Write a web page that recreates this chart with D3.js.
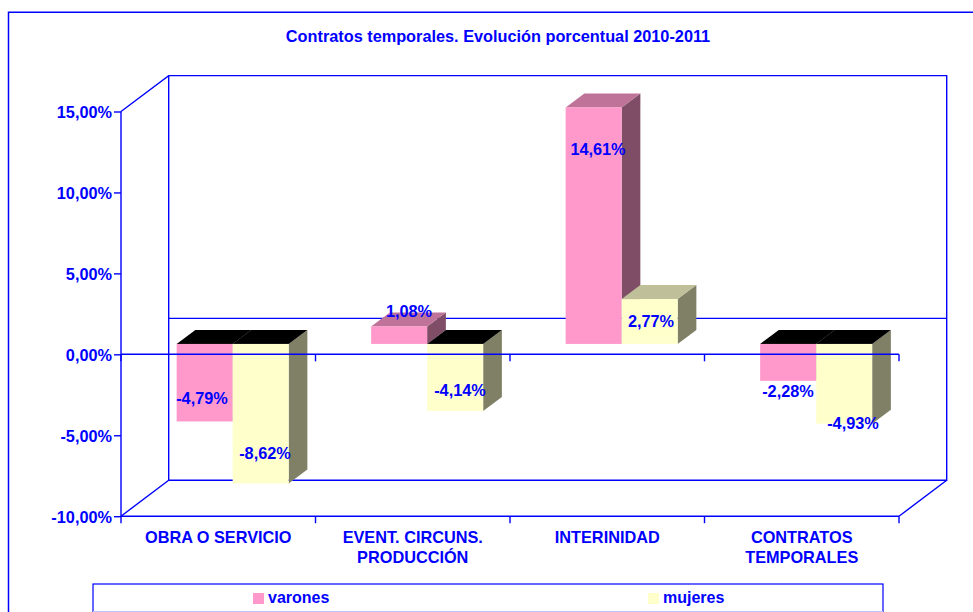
<!DOCTYPE html>
<html><head><meta charset="utf-8">
<script src="https://cdn.jsdelivr.net/npm/d3@7"></script>
<style>
html,body{margin:0;padding:0;background:#fff;overflow:hidden}
text{font-family:"Liberation Sans",Arial,sans-serif;font-weight:bold;fill:#0000ff}
</style></head><body><svg id="c" width="973" height="612"></svg>
<script>
const categories=[["OBRA O SERVICIO"],["EVENT. CIRCUNS.","PRODUCCIÓN"],["INTERINIDAD"],["CONTRATOS","TEMPORALES"]];
const varones=[-4.79,1.08,14.61,-2.28];
const mujeres=[-8.62,-4.14,2.77,-4.93];
const seriesNames=["varones","mujeres"];
const tickValues=[15,10,5,0,-5,-10];
const fmt=v=>v.toFixed(2).replace(".",",")+"%";
const BLUE="#0000ff", FS=16.3, SW=1.4;
const svg=d3.select("#c");
const y=d3.scaleLinear().domain([-10,15]).range([516.2,111.5]);
const x=d3.scaleBand().domain(d3.range(4)).range([121,899]);
const wall={dx:47.7,dy:-35.9}, bar={dx:14.4,dy:-10.4,depth:[18.7,-14]};
const line=(a,b,c,d,w=SW)=>svg.append("line").attr("x1",a).attr("y1",b).attr("x2",c).attr("y2",d).attr("stroke",BLUE).attr("stroke-width",w);

// chart frame
svg.append("path").attr("d","M8.5,612V12.2H973").attr("fill","none").attr("stroke",BLUE).attr("stroke-width",1.5);
svg.append("text").attr("x",498).attr("y",42).attr("text-anchor","middle").attr("font-size",FS).text("Contratos temporales. Evolución porcentual 2010-2011");

// back wall and floor
const x0=x.range()[0],x1=x.range()[1],yT=y(15),yB=y(-10);
svg.append("path").attr("fill","none").attr("stroke",BLUE).attr("stroke-width",SW)
 .attr("d",`M${x0},${yT}L${x0+wall.dx},${yT+wall.dy}H${x1+wall.dx}V${yB+wall.dy}H${x0+wall.dx}V${yT+wall.dy}M${x0},${yB}L${x0+wall.dx},${yB+wall.dy}M${x1},${yB}L${x1+wall.dx},${yB+wall.dy}`);
line(x0+wall.dx,y(0)+wall.dy,x1+wall.dx,y(0)+wall.dy,1.1);

// bars
const colors=[{f:"#FF99CC",t:"#BF7399",s:"#804D66"},{f:"#FFFFCC",t:"#BFBF99",s:"#808066"}];
const bw=x.bandwidth()*0.288;
const rows=[];
categories.forEach((c,i)=>[varones,mujeres].forEach((arr,k)=>rows.push({i,k,v:arr[i]})));
const base=y(0)+bar.dy, [ddx,ddy]=bar.depth;
rows.forEach(d=>{
 const bx=x(d.i)+x.bandwidth()/2-bw+bar.dx+d.k*bw, by0=base, by1=y(d.v)+bar.dy;
 const top=Math.min(by0,by1), bot=Math.max(by0,by1);
 const g=svg.append("g");
 g.append("path").attr("fill",colors[d.k].s).attr("d",`M${bx+bw},${top}l${ddx},${ddy}V${bot+ddy}L${bx+bw},${bot}Z`);
 g.append("path").attr("fill",d.v<0?"#000":colors[d.k].t).attr("d",`M${bx},${top}l${ddx},${ddy}h${bw}l${-ddx},${-ddy}Z`);
 g.append("rect").attr("x",bx).attr("y",top).attr("width",bw).attr("height",bot-top).attr("fill",colors[d.k].f);
});

// axes
const ya=d3.axisLeft(y).tickValues(tickValues).tickSize(7).tickFormat(fmt);
const gy=svg.append("g").attr("transform",`translate(${x0},0)`).call(ya);
gy.select(".domain").attr("stroke",BLUE).attr("stroke-width",SW).attr("d",`M0,${yT}V${yB}`);
gy.selectAll("line").attr("stroke",BLUE).attr("stroke-width",SW);
gy.selectAll("text").attr("font-size",FS).attr("x",-9).attr("dy","0.36em").attr("fill",BLUE).attr("font-family",null);
[yB,y(0)].forEach(p=>{line(x0,p,x1,p);x.domain().concat(4).forEach(i=>{const px=i<4?x(i):x1;line(px,p,px,p+7);});});
categories.forEach((c,i)=>{
 const t=svg.append("text").attr("text-anchor","middle").attr("font-size",FS).attr("y",543);
 c.forEach((s,j)=>t.append("tspan").attr("x",x(i)+x.bandwidth()/2).attr("dy",j?20:0).text(s));
});

// value labels
const lblY={"0,0":404,"1,0":317,"2,0":155,"3,0":397,"0,1":459,"1,1":396,"2,1":327,"3,1":429};
const lblX={"0,0":202,"1,0":409,"2,0":598,"3,0":788,"0,1":265,"1,1":460,"2,1":651,"3,1":853};
rows.forEach(d=>svg.append("text").attr("text-anchor","middle").attr("font-size",FS)
 .attr("x",lblX[d.i+","+d.k]).attr("y",lblY[d.i+","+d.k]).text(fmt(d.v)));

// legend
svg.append("rect").attr("x",93).attr("y",584).attr("width",790).attr("height",40).attr("fill","#fff").attr("stroke",BLUE).attr("stroke-width",1.2);
line(93,611.5,883,611.5,1).attr("stroke","#c4c4ff");
const legX=[253,648];
seriesNames.forEach((n,k)=>{
 svg.append("rect").attr("x",legX[k]).attr("y",593).attr("width",11).attr("height",11).attr("fill",colors[k].f);
 svg.append("text").attr("x",legX[k]+15).attr("y",603).attr("font-size",16).text(n);
});
</script></body></html>
